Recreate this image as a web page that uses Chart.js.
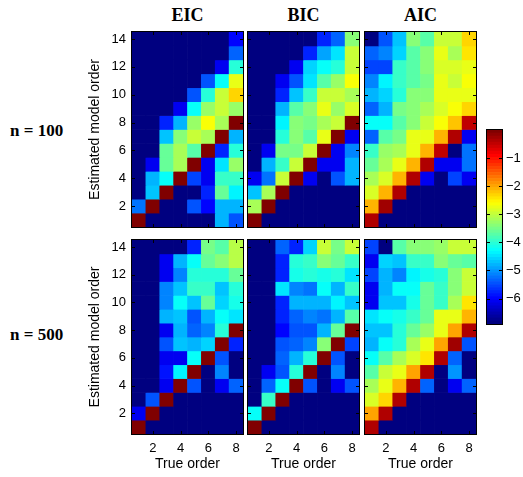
<!DOCTYPE html>
<html><head><meta charset="utf-8">
<script src="https://cdn.jsdelivr.net/npm/chart.js@4/dist/chart.umd.min.js"></script>
<style>
html,body{margin:0;padding:0;background:#fff;}
#wrap{position:relative;width:523px;height:477px;overflow:hidden;background:#fff;}
canvas{position:absolute;}
.t{position:absolute;font-family:'Liberation Serif','Times New Roman',serif;font-weight:bold;color:#000;white-space:nowrap;}
.ct{width:80px;text-align:center;font-size:18px;line-height:18px;top:6px;}
.rl{left:10px;font-size:17px;line-height:17px;}
</style></head><body><div id="wrap">
<div class="t ct" style="left:147.5px">EIC</div>
<div class="t ct" style="left:263.5px">BIC</div>
<div class="t ct" style="left:380.5px">AIC</div>
<div class="t rl" style="top:122px">n = 100</div>
<div class="t rl" style="top:326px">n = 500</div>
</div>
<script>
// ---- data: log-probabilities, rows = estimated order 14..1, cols = true order 1..8
const N = -6.9;
const trueOrders = ['1','2','3','4','5','6','7','8'];
const estOrders = [14,13,12,11,10,9,8,7,6,5,4,3,2,1];
const xTickLabels = ['2','4','6','8'];
const yTickValues = [2,4,6,8,10,12,14];
const cbarTicks = [-6,-5,-4,-3,-2,-1];
const cMin = -6.908, cMax = 0;

const eic100 = [
 [N,N,N,N,N,N,N,-6.0],
 [N,N,N,N,N,N,N,-5.3],
 [N,N,N,N,N,N,-6.1,-4.0],
 [N,N,N,N,N,-5.5,-4.3,-2.7],
 [N,N,N,N,-5.5,-4.1,-3.0,-2.3],
 [N,N,N,-6.1,-4.3,-3.25,-3.0,-3.25],
 [N,N,-5.75,-4.85,-3.3,-2.6,-3.2,-0.1],
 [N,N,-4.7,-3.45,-3.0,-3.2,-0.05,-4.85],
 [N,N,-3.6,-3.2,-3.75,-0.05,-5.75,-4.0],
 [N,-6.1,-3.6,-3.2,-0.05,-6.1,-4.45,-3.3],
 [N,-4.85,-4.3,-0.05,-5.6,-6.15,-3.9,-3.9],
 [N,-4.7,-0.05,N,N,-5.75,-3.6,-4.4],
 [-5.2,-0.05,N,N,-5.4,-6.0,-4.75,-4.75],
 [-0.05,N,N,N,N,N,-4.75,-5.5]
];
const bic100 = [
 [N,N,N,N,N,-5.75,-5.3,-3.45],
 [N,N,N,N,-5.75,-4.9,-4.45,-3.0],
 [N,N,N,-6.1,-4.6,-4.3,-4.0,-3.0],
 [N,N,-6.1,-5.5,-4.5,-3.75,-3.25,-2.6],
 [N,N,-5.75,-4.7,-3.9,-3.0,-3.0,-3.2],
 [N,N,-4.85,-3.75,-3.45,-2.8,-3.3,-2.9],
 [N,N,-4.4,-3.45,-3.55,-3.2,-2.95,-0.1],
 [N,N,-4.0,-3.45,-3.75,-2.8,-0.05,-6.1],
 [N,-6.1,-3.55,-3.55,-3.0,-0.05,-6.1,-5.1],
 [N,-4.75,-3.9,-3.0,-0.05,-6.1,-6.1,-4.85],
 [-6.1,-5.2,-3.0,-0.05,-6.1,N,-5.5,-4.85],
 [-4.7,-3.2,-0.05,N,N,N,N,N],
 [-3.2,-0.05,N,N,N,N,N,N],
 [-0.05,N,N,N,N,N,N,N]
];
const aic100 = [
 [N,-5.5,-4.7,-3.45,-3.75,-3.0,-3.0,-2.3],
 [-5.3,-5.1,-4.55,-3.75,-3.45,-2.8,-3.2,-2.45],
 [-5.6,-5.6,-3.9,-3.75,-3.45,-2.9,-2.9,-2.7],
 [-5.1,-4.4,-3.9,-3.75,-3.55,-2.8,-2.95,-2.6],
 [-4.85,-4.55,-4.0,-3.45,-3.45,-2.7,-2.7,-2.7],
 [-5.3,-4.75,-3.55,-3.45,-3.2,-2.9,-2.6,-2.3],
 [-4.3,-4.3,-3.75,-3.45,-3.0,-2.6,-2.25,-0.5],
 [-5.3,-3.75,-3.55,-2.8,-2.8,-2.1,-0.4,-6.05],
 [-3.9,-3.3,-3.2,-2.7,-2.1,-0.5,N,-5.2],
 [-3.6,-3.2,-2.8,-2.1,-0.4,-6.1,-6.1,-5.2],
 [-3.2,-2.9,-2.1,-0.4,-6.1,N,-5.6,-6.05],
 [-2.9,-2.1,-0.4,N,N,N,N,N],
 [-2.1,-0.3,N,N,N,N,N,N],
 [-0.35,N,N,N,N,N,N,N]
];
const eic500 = [
 [N,N,N,N,-5.75,-3.55,-3.75,-3.1],
 [N,N,-6.15,-4.85,-4.3,-3.6,-3.45,-3.1],
 [N,N,-6.15,-5.1,-4.1,-4.1,-4.1,-3.6],
 [N,N,-5.1,-4.7,-3.9,-3.9,-4.7,-4.0],
 [N,N,-5.1,-4.3,-4.7,-3.6,-4.55,-4.2],
 [N,N,-4.85,-4.7,-5.5,-4.85,-4.3,-4.45],
 [N,N,-6.1,-4.85,-5.3,-5.1,-4.1,-0.05],
 [N,N,-5.5,-4.65,-4.85,-4.55,-0.05,-5.75],
 [N,N,-6.1,-6.1,-4.3,-0.05,-5.5,N],
 [N,N,-5.85,-4.4,-0.05,N,-5.1,N],
 [N,N,-6.1,-0.05,-5.4,N,-6.1,-5.3],
 [N,-5.4,-0.05,N,N,N,N,N],
 [-6.1,-0.05,N,N,N,N,N,N],
 [-0.05,N,N,N,N,N,N,N]
];
const bic500 = [
 [N,N,-5.3,-5.75,-4.6,-3.0,-3.55,-3.0],
 [N,N,-5.75,-4.1,-3.9,-3.45,-3.6,-3.9],
 [N,N,-5.75,-4.2,-4.0,-4.2,-4.1,-4.45],
 [N,N,-4.45,-5.1,-5.2,-4.3,-4.85,-3.9],
 [N,N,-5.75,-4.85,-4.85,-4.75,-4.4,-4.7],
 [N,N,-5.75,-5.3,-5.1,-5.2,-4.75,-3.75],
 [N,N,-6.0,-5.5,-5.5,-4.85,-3.6,-0.05],
 [N,N,-5.5,-5.3,-5.1,-3.45,-0.05,-5.6],
 [N,N,-5.3,-4.75,-4.1,-0.05,-5.4,N],
 [N,-6.1,-5.5,-4.1,-0.05,N,-5.1,N],
 [N,-5.3,-4.3,-0.05,-5.5,N,-6.1,-5.4],
 [N,-3.9,-0.05,N,N,N,N,N],
 [-4.3,-0.05,N,N,N,N,N,N],
 [-0.05,N,N,N,N,N,N,N]
];
const aic500 = [
 [-5.6,N,-3.75,-3.45,-3.45,-3.3,-3.0,-2.95],
 [-6.1,-4.55,-4.7,-3.9,-3.9,-3.45,-3.6,-3.75],
 [-5.6,-4.85,-5.1,-4.4,-4.2,-4.0,-3.45,-3.0],
 [-6.1,-4.85,-4.3,-4.3,-3.6,-3.9,-3.45,-3.0],
 [-6.1,-4.7,-4.7,-4.2,-3.6,-3.9,-3.2,-2.45],
 [-4.5,-4.3,-4.2,-3.9,-3.6,-2.8,-2.7,-2.1],
 [-4.7,-4.7,-4.1,-3.6,-3.3,-2.7,-2.0,-0.4],
 [-4.75,-4.3,-4.1,-3.2,-2.7,-1.95,-0.3,-5.5],
 [-4.3,-3.75,-3.2,-2.9,-2.4,-0.4,-5.3,N],
 [-3.75,-3.0,-2.7,-2.0,-0.35,N,-5.0,N],
 [-3.2,-2.7,-2.1,-0.35,-5.3,N,-6.1,-5.3],
 [-2.9,-2.3,-0.35,N,N,N,N,N],
 [-2.0,-0.35,N,N,N,N,N,N],
 [-0.4,N,N,N,N,N,N,N]
];

// ---- jet colormap (64 levels)
function clamp01(v){return Math.max(0,Math.min(1,v));}
function jetT(t){
  const r=clamp01(1.5-Math.abs(4*t-3)), g=clamp01(1.5-Math.abs(4*t-2)), b=clamp01(1.5-Math.abs(4*t-1));
  return 'rgb('+Math.round(r*255)+','+Math.round(g*255)+','+Math.round(b*255)+')';
}
function jetVal(v){
  const t=clamp01((v-cMin)/(cMax-cMin));
  const idx=Math.min(63,Math.floor(t*64));
  return jetT(idx/63);
}

Chart.defaults.font.family="'Liberation Sans', Arial, Helvetica, sans-serif";
Chart.defaults.color='#000';

const boxPlugin={
  id:'boxTicks',
  afterDatasetsDraw(chart,args,opts){
    const {ctx,chartArea:a,scales}=chart; const x=scales.x,y=scales.y;
    const L=opts.len||3;
    ctx.save(); ctx.strokeStyle='#000'; ctx.lineWidth=1; ctx.beginPath();
    (opts.xt||[]).forEach(i=>{const px=Math.round(x.getPixelForValue(i))+0.5;
      ctx.moveTo(px,a.bottom);ctx.lineTo(px,a.bottom-L);ctx.moveTo(px,a.top);ctx.lineTo(px,a.top+L);});
    (opts.yt||[]).forEach(v=>{const py=Math.round(y.getPixelForValue(v))+0.5;
      ctx.moveTo(a.left,py);ctx.lineTo(a.left+L,py);ctx.moveTo(a.right,py);ctx.lineTo(a.right-L,py);});
    ctx.stroke();
    ctx.strokeRect(a.left-0.5,a.top-0.5,a.right-a.left+1,a.bottom-a.top+1);
    ctx.restore();
  }
};
function zeroPad(s){s.paddingLeft=0;s.paddingRight=0;s.paddingTop=0;s.paddingBottom=0;}

const panelLefts=[132,248,365], panelW=111, panelTops=[32,240], panelHs=[195,194];
const wrap=document.getElementById('wrap');

function makePanel(matrix,col,row){
  const left=panelLefts[col], top=panelTops[row], h=panelHs[row];
  const yw = col===0?50:0, xh = row===1?43:0;
  const cv=document.createElement('canvas');
  cv.width=yw+panelW+2; cv.height=h+xh+2;
  cv.style.left=(left-yw-1)+'px'; cv.style.top=(top-1)+'px';
  cv.style.width=cv.width+'px'; cv.style.height=cv.height+'px';
  wrap.appendChild(cv);
  const datasets=matrix.map((vals,i)=>{
    const r=estOrders[i];
    return {label:'order '+r,data:vals.map(()=>[r-0.5,r+0.5]),backgroundColor:vals.map(jetVal),
      borderWidth:0,grouped:false,barPercentage:1,categoryPercentage:1};
  });
  new Chart(cv,{
    type:'bar',
    data:{labels:trueOrders,datasets},
    plugins:[boxPlugin],
    options:{
      responsive:false,animation:false,devicePixelRatio:1,
      layout:{padding:1},
      plugins:{legend:{display:false},tooltip:{enabled:false},
        boxTicks:{xt:xTickLabels.map(l=>trueOrders.indexOf(l)),yt:yTickValues,len:3}},
      scales:{
        x:{type:'category',display:row===1,offset:true,
          grid:{display:false,drawTicks:false},border:{display:false},
          ticks:{autoSkip:false,maxRotation:0,padding:7,font:{size:13},
            callback:function(v){const l=this.getLabelForValue(v);return xTickLabels.includes(l)?l:'';}},
          title:{display:true,text:'True order',font:{size:14},padding:{top:0,bottom:4}},
          afterFit:s=>{s.height=xh;zeroPad(s);}},
        y:{type:'linear',display:col===0,min:0.5,max:14.5,
          grid:{display:false,drawTicks:false},border:{display:false},
          ticks:{padding:6,font:{size:13}},
          afterBuildTicks:s=>{s.ticks=yTickValues.map(v=>({value:v}));},
          title:{display:true,text:'Estimated model order',font:{size:14},padding:{top:5,bottom:0}},
          afterFit:s=>{s.width=yw;zeroPad(s);}}
      }
    }
  });
}
makePanel(eic100,0,0); makePanel(bic100,1,0); makePanel(aic100,2,0);
makePanel(eic500,0,1); makePanel(bic500,1,1); makePanel(aic500,2,1);

// ---- colorbar
(function(){
  const nLev=64, step=(cMax-cMin)/nLev;
  const levels=[]; for(let k=0;k<nLev;k++) levels.push(k);
  const cw=26;
  const cv=document.createElement('canvas');
  cv.width=1+15+cw+1; cv.height=194+2;
  cv.style.left='486px'; cv.style.top='129px';
  cv.style.width=cv.width+'px'; cv.style.height=cv.height+'px';
  wrap.appendChild(cv);
  new Chart(cv,{
    type:'bar',
    data:{labels:['c'],datasets:levels.map(k=>({label:'l'+k,data:[[cMin+k*step,cMin+(k+1)*step]],
      backgroundColor:jetT(k/(nLev-1)),borderWidth:0,grouped:false,barPercentage:1,categoryPercentage:1}))},
    plugins:[boxPlugin],
    options:{
      responsive:false,animation:false,devicePixelRatio:1,layout:{padding:1},
      plugins:{legend:{display:false},tooltip:{enabled:false},boxTicks:{xt:[],yt:cbarTicks,len:3}},
      scales:{
        x:{display:false},
        y:{type:'linear',position:'right',min:cMin,max:cMax,
          grid:{display:false,drawTicks:false},border:{display:false},
          ticks:{padding:4,font:{size:13},callback:v=>'\u2212'+Math.abs(v)},
          afterBuildTicks:s=>{s.ticks=cbarTicks.map(v=>({value:v}));},
          afterFit:s=>{s.width=cw;zeroPad(s);}}
      }
    }
  });
})();
</script>
</body></html>
